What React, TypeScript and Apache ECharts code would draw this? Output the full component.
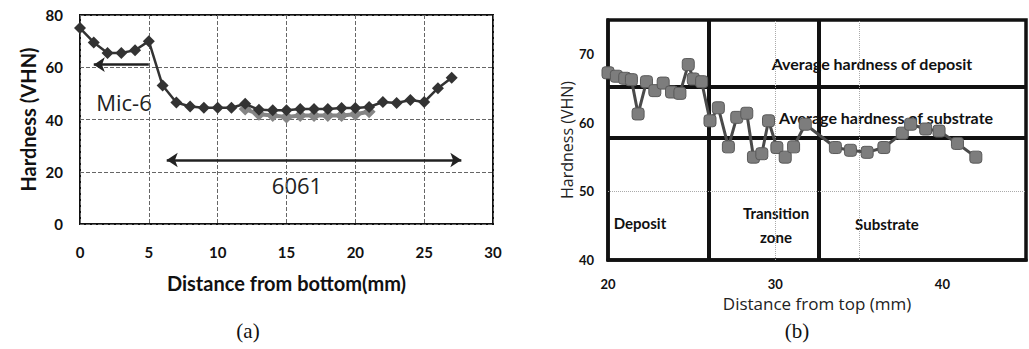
import React, { useEffect, useRef } from "react";
import * as echarts from "echarts";

// ---------- Panel (a) data ----------
const aDistance = [0, 1, 2, 3, 4, 5, 6, 7, 8, 9, 10, 11, 12, 13, 14, 15, 16, 17, 18, 19, 20, 21, 22, 23, 24, 25, 26, 27];
const aHardness = [75, 69.5, 65.5, 65.5, 66.5, 70, 53, 46.5, 45, 44.5, 44.5, 44.5, 46, 43.7, 43.5, 43.5, 44, 44, 44, 44.4, 44.4, 44.8, 46.7, 46.3, 47.5, 46.7, 52, 56];
const aGrayDistance = [12, 13, 14, 15, 16, 17, 18, 19, 20, 21];
const aGrayHardness = [44, 42, 41.5, 41, 41.5, 41.5, 41.5, 41.5, 42, 43];
const aXTicks = { min: 0, max: 30, interval: 5 };
const aYTicks = { min: 0, max: 80, interval: 20 };
const aMicArrow = { from: 1, to: 5, level: 61 };
const a6061Arrow = { from: 6.3, to: 27.7, level: 24.5 };

// ---------- Panel (b) data ----------
const bDistance = [20.0, 20.5, 21.0, 21.4, 21.8, 22.3, 22.8, 23.3, 23.8, 24.3, 24.8, 25.1, 25.6, 26.1, 26.6, 27.2, 27.7, 28.3, 28.7, 29.2, 29.6, 30.1, 30.6, 31.1, 31.8, 33.6, 34.5, 35.5, 36.5, 37.6, 38.1, 39.0, 39.8, 40.9, 42.0];
const bHardness = [67.3, 66.8, 66.5, 66.3, 61.3, 66.0, 64.7, 65.8, 64.5, 64.3, 68.5, 66.4, 66.0, 60.3, 62.2, 56.5, 60.8, 61.4, 55.0, 55.5, 60.3, 56.4, 55.0, 56.5, 59.8, 56.4, 56.0, 55.7, 56.4, 58.5, 59.8, 59.1, 58.8, 57.0, 55.0];
const bZoneBounds = [26, 32.6];
const bAverages = [65.3, 57.8];
const bGuideX = [30, 35];
const bGuideY = [50];
const bXTicks = { min: 20, max: 45, interval: 5 };
const bYTicks = { min: 40, max: 75, interval: 10 };

const BOLD = "Lato";
const REG = "Open Sans";

export default function App() {
  const ref = useRef<HTMLDivElement>(null);

  useEffect(() => {
    if (!ref.current) return;
    const chart = echarts.init(ref.current, undefined, { renderer: "svg" });

    const aMain = aDistance.map((x, i) => [x, aHardness[i]]);
    const aGray = aGrayDistance.map((x, i) => [x, aGrayHardness[i]]);
    const bData = bDistance.map((x, i) => [x, bHardness[i]]);

    const option: any = {
      animation: false,
      backgroundColor: "#fff",
      grid: [
        { left: 80, top: 15, width: 413, height: 209, show: true, borderColor: "#111", borderWidth: 2 },
        { left: 608, top: 20, width: 430, height: 240, show: true, borderColor: "#111", borderWidth: 3.5 },
      ],
      xAxis: [
        {
          gridIndex: 0, type: "value", ...aXTicks,
          axisLine: { show: false }, axisTick: { show: false },
          splitLine: { show: true, lineStyle: { type: "dashed", color: "#666", width: 1 } },
          axisLabel: { fontFamily: BOLD, fontWeight: "bold", fontSize: 15, color: "#111", margin: 20 },
          name: "Distance from bottom(mm)", nameLocation: "middle", nameGap: 49,
          nameTextStyle: { fontFamily: BOLD, fontWeight: "bold", fontSize: 20, color: "#111" },
        },
        {
          gridIndex: 1, type: "value", ...bXTicks,
          axisLine: { show: true, lineStyle: { color: "#111", width: 3.5 } }, axisTick: { show: false },
          splitLine: { show: false },
          axisLabel: {
            fontFamily: BOLD, fontWeight: "bold", fontSize: 13, color: "#111", margin: 17,
            formatter: (v: number) => (v % 10 === 0 && v < 45 ? String(v) : ""),
          },
          name: "Distance from top (mm)", nameLocation: "middle", nameGap: 30,
          nameTextStyle: { fontFamily: REG, fontSize: 17, color: "#222" },
        },
      ],
      yAxis: [
        {
          gridIndex: 0, type: "value", ...aYTicks,
          axisLine: { show: false }, axisTick: { show: false },
          splitLine: { show: true, lineStyle: { type: "dashed", color: "#666", width: 1 } },
          axisLabel: { fontFamily: BOLD, fontWeight: "bold", fontSize: 15, color: "#111", margin: 17 },
          name: "Hardness (VHN)", nameLocation: "middle", nameGap: 42,
          nameTextStyle: { fontFamily: BOLD, fontWeight: "bold", fontSize: 20, color: "#111" },
        },
        {
          gridIndex: 1, type: "value", ...bYTicks,
          axisLine: { show: true, lineStyle: { color: "#111", width: 3.5 } }, axisTick: { show: false },
          splitLine: { show: false },
          axisLabel: { fontFamily: BOLD, fontWeight: "bold", fontSize: 13, color: "#111", margin: 14, showMaxLabel: false },
          name: "Hardness (VHN)", nameLocation: "middle", nameGap: 33,
          nameTextStyle: { fontFamily: REG, fontSize: 16, color: "#222" },
        },
      ],
      series: [
        {
          type: "line", xAxisIndex: 0, yAxisIndex: 0, data: aGray,
          symbol: "diamond", symbolSize: 13, z: 3,
          itemStyle: { color: "#858585" }, lineStyle: { color: "#858585", width: 4 },
        },
        {
          type: "line", xAxisIndex: 0, yAxisIndex: 0, data: aMain,
          symbol: "diamond", symbolSize: 12, z: 4,
          itemStyle: { color: "#333" }, lineStyle: { color: "#333", width: 2.5 },
          markLine: {
            silent: true, symbolSize: [11, 11],
            lineStyle: { color: "#222", width: 2.5, type: "solid" },
            label: { show: false },
            data: [
              [
                { coord: [aMicArrow.from, aMicArrow.level], symbol: "arrow" },
                { coord: [aMicArrow.to, aMicArrow.level], symbol: "none" },
              ],
              [
                { coord: [a6061Arrow.from, a6061Arrow.level], symbol: "arrow" },
                { coord: [a6061Arrow.to, a6061Arrow.level], symbol: "arrow" },
              ],
            ],
          },
        },
        {
          type: "line", xAxisIndex: 1, yAxisIndex: 1, data: bData,
          symbol: "roundRect", symbolSize: 12, z: 5,
          itemStyle: { color: "#7d7d7d", borderColor: "#5a5a5a", borderWidth: 1 },
          lineStyle: { color: "#4a4a4a", width: 3 },
          markLine: {
            silent: true, symbol: "none", label: { show: false },
            lineStyle: { color: "#111", width: 4, type: "solid" },
            data: [
              ...bZoneBounds.map((x) => ({ xAxis: x })),
              ...bAverages.map((y) => ({ yAxis: y })),
              ...bGuideX.map((x) => ({ xAxis: x, lineStyle: { color: "#aaa", width: 1, type: "dotted" } })),
              ...bGuideY.map((y) => ({ yAxis: y, lineStyle: { color: "#aaa", width: 1, type: "dotted" } })),
            ],
          },
        },
      ],
      graphic: [
        { type: "text", x: 124, y: 102, style: { text: "Mic-6", font: `22px "${REG}"`, fill: "#222", align: "center", verticalAlign: "middle" } },
        { type: "text", x: 297, y: 185, style: { text: "6061", font: `22px "${REG}"`, fill: "#222", align: "center", verticalAlign: "middle" } },
        { type: "text", x: 248, y: 331, style: { text: "(a)", font: `21px "Liberation Serif"`, fill: "#111", align: "center", verticalAlign: "middle" } },
        { type: "text", x: 797, y: 331, style: { text: "(b)", font: `21px "Liberation Serif"`, fill: "#111", align: "center", verticalAlign: "middle" } },
        { type: "text", z: 1, x: 872, y: 63, style: { text: "Average hardness of deposit", font: `bold 16px "${BOLD}"`, fill: "#111", align: "center", verticalAlign: "middle" } },
        { type: "text", z: 1, x: 886, y: 117, style: { text: "Average hardness of substrate", font: `bold 16px "${BOLD}"`, fill: "#111", align: "center", verticalAlign: "middle" } },
        { type: "text", x: 640, y: 223, style: { text: "Deposit", font: `bold 15px "${BOLD}"`, fill: "#111", align: "center", verticalAlign: "middle" } },
        { type: "text", x: 776, y: 225, style: { text: "Transition\nzone", font: `bold 15px "${BOLD}"`, fill: "#111", align: "center", verticalAlign: "middle", lineHeight: 24 } },
        { type: "text", x: 887, y: 224, style: { text: "Substrate", font: `bold 15px "${BOLD}"`, fill: "#111", align: "center", verticalAlign: "middle" } },
      ],
    };

    chart.setOption(option);
    return () => chart.dispose();
  }, []);

  return (
    <div
      ref={ref}
      style={{ position: "fixed", left: 0, top: 0, width: 1029, height: 349, background: "#fff" }}
    />
  );
}
